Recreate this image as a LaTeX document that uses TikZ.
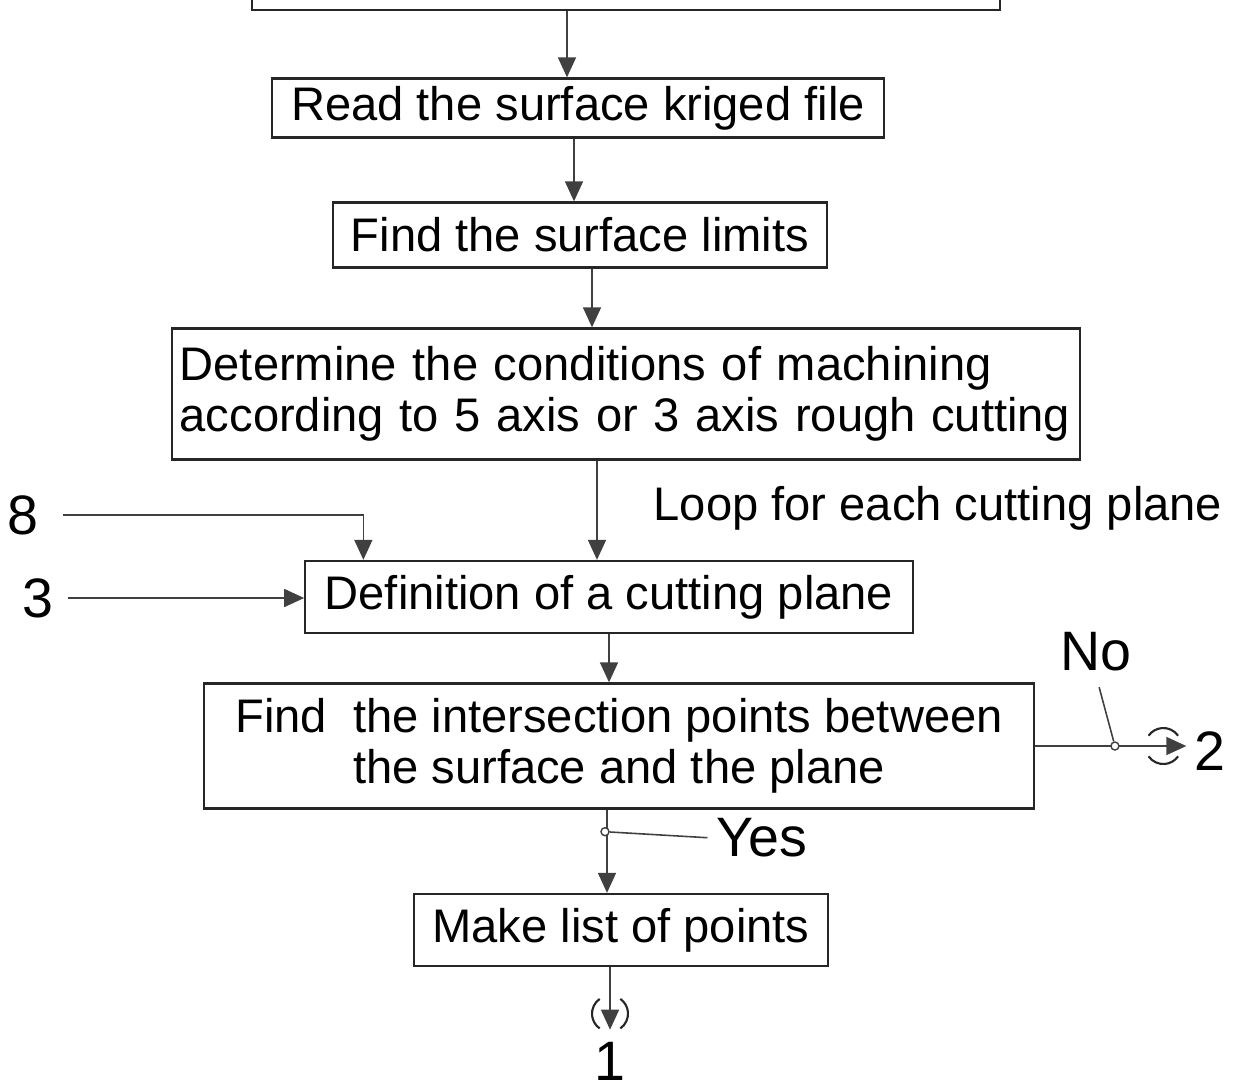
\documentclass[tikz,border=0pt]{standalone}
\usepackage{fontspec}
\setmainfont{Liberation Sans}
\usetikzlibrary{arrows.meta,positioning}

\newcommand{\flowfont}{\fontsize{13.4}{14.6}\selectfont}
\newcommand{\markfont}{\fontsize{15.8}{17}\selectfont}

\tikzset{
  stage/.style={draw=black!85, line width=0.65pt, inner sep=0pt, font=\flowfont},
  flow/.style={draw=black!75, line width=0.45pt, -{Triangle[length=0.2cm,width=0.18cm]}},
  lead/.style={draw=black!75, line width=0.45pt},
  tag/.style={font=\flowfont, inner sep=1pt},
  numtag/.style={font=\markfont, inner sep=1pt},
  knot/.style={circle, draw=black!75, fill=white, inner sep=0pt, minimum size=0.08cm, line width=0.4pt},
  brace/.style={draw=black!85, line width=0.6pt},
}

\begin{document}
\begin{tikzpicture}[x=0.01cm, y=-0.01cm]
      \useasboundingbox (0,0) rectangle (1243,1087);
      \clip (0,0) rectangle (1243,1087);
%      \draw[help lines] (0,0) grid[step=100] (1243,1087);

      % boxes of the flow
      \node[stage, minimum width=7.48cm, minimum height=0.8cm] (krig) at (626,-30) {};
      \node[stage, minimum width=6.11cm, minimum height=0.59cm] (read) at (578,108) {Read the surface kriged file};
      \node[stage, minimum width=4.94cm, minimum height=0.65cm] (limits) at (580,235) {Find the surface limits};
      \node[stage, text width=8.92cm, inner xsep=0.08cm, minimum height=1.31cm, align=left] (cond) at (626,394)
           {Determine the conditions of machining\\according to 5 axis or 3 axis rough cutting};
      \node[stage, minimum width=6.07cm, minimum height=0.72cm] (def) at (609,597) {Definition of a cutting plane};
      \node[stage, minimum width=8.29cm, minimum height=1.25cm, align=center] (inter) at (619,746)
           {Find\ \ the intersection points between\\the surface and the plane};
      \node[stage, minimum width=4.14cm, minimum height=0.72cm] (list) at (621,930) {Make list of points};

      % loose labels
      \node[tag]    (loop) at (938,508)  {Loop for each cutting plane};
      \node[numtag] (in8)  at (23,515)   {8};
      \node[numtag] (in3)  at (38,598)   {3};
      \node[numtag] (no)   at (1096,652) {No};
      \node[numtag] (yes)  at (762,838)  {Yes};
      \node[numtag] (out2) at (1210,751) {2};
      \node[numtag] (out1) at (610,1061) {1};

      % main line
      \draw[flow] ([xshift=-0.11cm]read.north |- krig.south) -- ([xshift=-0.11cm]read.north);
      \draw[flow] ([xshift=-0.04cm]read.south) -- ([xshift=-0.04cm]read.south |- limits.north);
      \draw[flow] ([xshift=0.12cm]limits.south) -- ([xshift=0.12cm]limits.south |- cond.north);
      \draw[flow] ([xshift=-0.12cm]def.north |- cond.south) -- ([xshift=-0.12cm]def.north);
      \draw[flow] (def.south) -- (def.south |- inter.north);
      \draw[flow] ([xshift=-0.14cm]list.north |- inter.south) -- ([xshift=-0.14cm]list.north);
      \draw[flow, shorten >=0.08cm] (list.south -| out1) -- (out1.north);

      % re-entries from 8 and 3
      \draw[flow, shorten <=0.2cm] (in8.east) -| ([xshift=-2.455cm]def.north);
      \draw[flow, shorten <=0.1cm] (in3.east) -- (in3.east -| def.west);

      % no / yes branches
      \draw[flow, shorten >=0.04cm] (inter.east) -- (inter.east -| out2.west);
      \node[knot] (nok) at ([xshift=0.8cm]inter.east) {};
      \draw[lead, shorten >=0.12cm] (nok) -- (no.south);
      \node[knot] (yesk) at ([xshift=-0.14cm, yshift=-0.22cm]inter.south) {};
      \draw[lead, shorten >=0.05cm] (yesk) -- (yes.west);

      % brackets round the outgoing tips
      \path (inter.east -| out2.west) ++(-0.27cm,0) coordinate (c2);
      \draw[brace] (c2) ++(35:0.18cm) arc[start angle=35, end angle=145, radius=0.18cm];
      \draw[brace] (c2) ++(215:0.18cm) arc[start angle=215, end angle=325, radius=0.18cm];
      \path (out1.north) ++(0,0.24cm) coordinate (c1);
      \draw[brace] (c1) ++(125:0.18cm) arc[start angle=125, end angle=235, radius=0.18cm];
      \draw[brace] (c1) ++(-55:0.18cm) arc[start angle=-55, end angle=55, radius=0.18cm];
\end{tikzpicture}
\end{document}
